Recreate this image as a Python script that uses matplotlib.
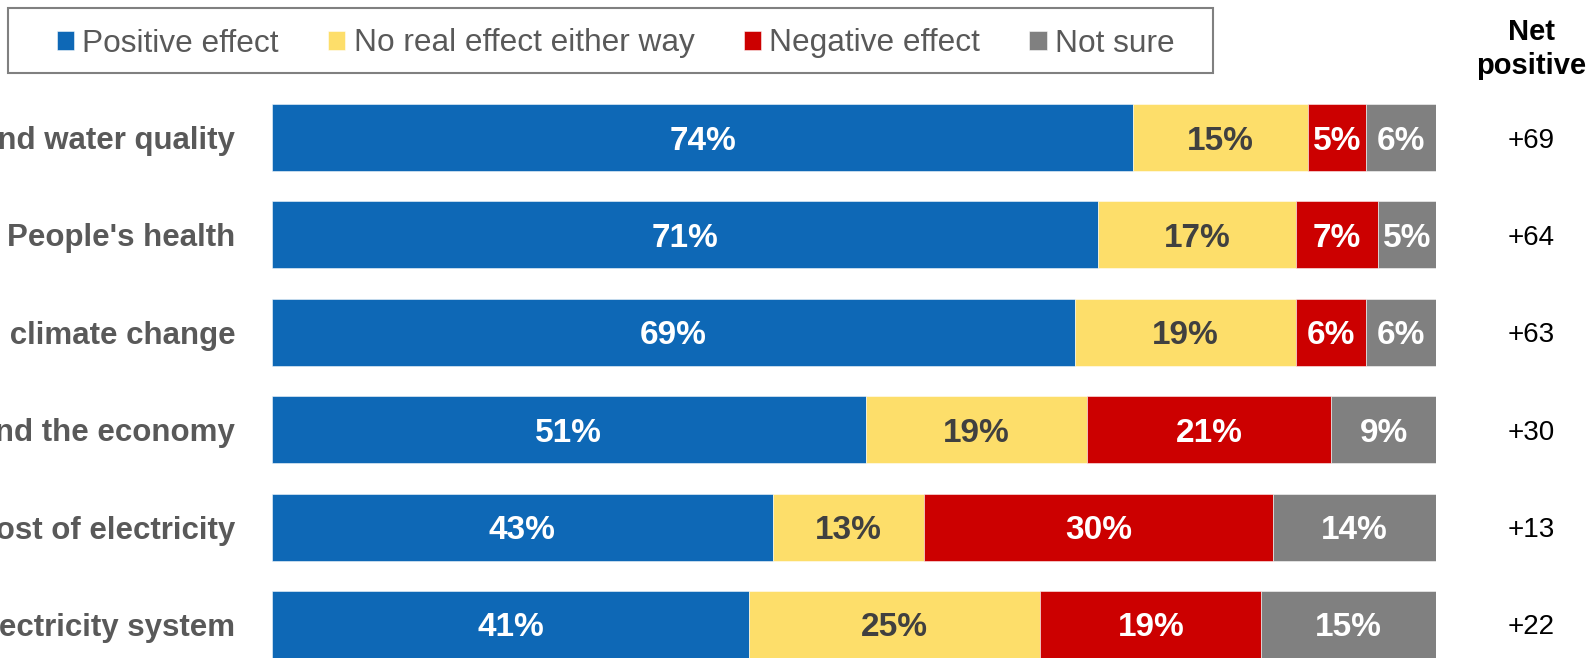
import numpy as np
import matplotlib
matplotlib.use("Agg")
import matplotlib.pyplot as plt
from matplotlib.patches import Rectangle

plt.rcParams['font.family'] = ['Liberation Sans', 'DejaVu Sans']

categories = ["Air and water quality", "People's health", "Tackling climate change",
              "Jobs and the economy", "The cost of electricity",
              "Reliability of the electricity system"]
positive = [74, 71, 69, 51, 43, 41]
no_effect = [15, 17, 19, 19, 13, 25]
negative = [5, 7, 6, 21, 30, 19]
not_sure = [6, 5, 6, 9, 14, 15]
net_positive = ["+69", "+64", "+63", "+30", "+13", "+22"]

series_names = ["Positive effect", "No real effect either way", "Negative effect", "Not sure"]
colors = ["#0E68B6", "#FDDE6A", "#CC0000", "#808080"]
label_colors = ["white", "#404040", "white", "white"]

W, H = 1591, 658
fig = plt.figure(figsize=(W / 100, H / 100), dpi=100)
ax = fig.add_axes([272 / W, 0, 1164 / W, 1])

y = np.arange(len(categories))
left = np.zeros(len(categories))
bars = []
for vals, name, col, lc in zip([positive, no_effect, negative, not_sure],
                               series_names, colors, label_colors):
    b = ax.barh(y, vals, left=left, height=0.688, color=col, label=name,
                edgecolor=(1, 1, 1, 0.6), linewidth=0.6)
    anns = ax.bar_label(b, labels=[f"{v}%" for v in vals], label_type='center',
                        color=lc, fontsize=24, fontweight='bold')
    for a in anns:
        a.set_va('center_baseline')
    bars.append(b)
    left += np.array(vals)

ax.set_xlim(0, 100)
ax.set_ylim(5.344, -1.412)
ax.set_yticks(y, labels=categories)
ax.tick_params(axis='y', length=0, pad=26.5, labelsize=22.5, labelcolor='#595959')
for t in ax.get_yticklabels():
    t.set_fontweight('bold')
    t.set_va('center_baseline')
ax.set_xticks([])
for s in ax.spines.values():
    s.set_visible(False)

# net positive column
for yi, n in zip(y, net_positive):
    ax.text(108.2, yi, n, ha='center', va='center_baseline', fontsize=20,
            color='black', clip_on=False)
fig.text(1531 / W, 1 - 49 / H, "Net\npositive", ha='center', va='center',
         fontsize=21, fontweight='bold', color='black', linespacing=1.3)

# legend
fig.patches.append(Rectangle((8 / W, 1 - 73 / H), 1205 / W, 65 / H,
                             transform=fig.transFigure, fill=False,
                             edgecolor='#808080', linewidth=1.5))
fig.legend(handles=bars, labels=series_names, ncol=4, loc='center left',
           bbox_to_anchor=(41 / W, 1 - 43.5 / H), frameon=False, borderpad=0,
           fontsize=22.8, labelcolor='#595959', handlelength=0.55,
           handleheight=0.55, handletextpad=0.26, columnspacing=1.55)

fig.savefig("out.png", dpi=100)
